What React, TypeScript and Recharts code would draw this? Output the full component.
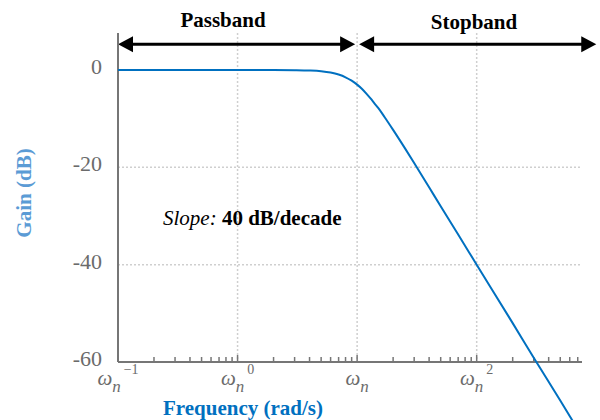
import {
  CartesianGrid,
  Line,
  LineChart,
  ReferenceLine,
  XAxis,
  YAxis,
} from "recharts";

// frequency (rad/s, with omega_n = 10) and gain (dB)
const freq = [0.1, 1, 2, 3, 4, 5, 6, 7, 8, 9, 10, 11, 12, 13, 14, 15, 17, 20, 25, 30, 40, 50, 70, 100, 200, 300, 500, 700];
const gain = [0, 0, -0.01, -0.04, -0.11, -0.26, -0.53, -0.94, -1.5, -2.2, -3.0, -3.9, -4.9, -5.9, -6.9, -7.8, -9.7, -12.3, -16.0, -19.1, -24.1, -28.0, -33.8, -40.0, -52.0, -59.1, -67.9, -73.8];

const yTicks = [0, -20, -40, -60];
const majorTicks = [0.1, 1, 10, 100];
const majorExp = ["\u22121", "0", "", "2"];
const minorTicks = [
  0.2, 0.3, 0.4, 0.5, 0.6, 0.7, 0.8, 0.9,
  2, 3, 4, 5, 6, 7, 8, 9,
  20, 30, 40, 50, 60, 70, 80, 90,
  200, 300, 400, 500, 600, 700,
];
const passband = [0.1, 10];
const stopband = [10, 1000];
const arrowLevel = 5.3;

const data = freq.map((f, i) => ({ f, gain: gain[i] }));

const W = 600;
const H = 420;
const X_DOMAIN = [0.1, 760];
const SERIF = '"Liberation Serif", "Times New Roman", serif';
const AXIS = "#767676";
const TXT = "#6b6b6b";

const XTick = ({ x, y, payload }: any) => {
  const idx = majorTicks.indexOf(payload.value);
  const major = idx >= 0;
  return (
    <g>
      <line x1={x} x2={x} y1={y} y2={y - (major ? 7 : 5)} stroke={AXIS} strokeWidth={1.5} />
      {major && (
        <text x={x} y={y + 23} textAnchor="middle" fill={TXT} fontFamily={SERIF} fontStyle="italic">
          <tspan fontSize={21}>ω</tspan>
          <tspan fontSize={17} dy={7}>n</tspan>
          {majorExp[idx] && (
            <tspan fontSize={14} fontStyle="normal" dy={-18} dx={3}>
              {majorExp[idx]}
            </tspan>
          )}
        </text>
      )}
    </g>
  );
};

const YTick = ({ x, y, payload }: any) => (
  <text x={x} y={y + 4} textAnchor="end" fill={TXT} fontFamily={SERIF} fontSize={22}>
    {payload.value}
  </text>
);

const arrow = (padStart: number, padEnd: number) => (props: any) => {
  const { x1, y1, x2 } = props;
  const a = x1 + padStart;
  const b = x2 - padEnd;
  const L = 15;
  const h = 8;
  return (
    <g>
      <line x1={a + L - 2} x2={b - L + 2} y1={y1} y2={y1} stroke="#000" strokeWidth={3} />
      <path d={`M${a},${y1} L${a + L},${y1 - h} L${a + L},${y1 + h} Z`} fill="#000" />
      <path d={`M${b},${y1} L${b - L},${y1 - h} L${b - L},${y1 + h} Z`} fill="#000" />
    </g>
  );
};

const App = () => {
  return (
    <div style={{ position: "absolute", left: 0, top: 0, width: W, height: H, background: "#fff" }}>
      {/* axes, grid and band arrows */}
      <div style={{ position: "absolute", left: 0, top: 0 }}>
        <LineChart width={W} height={H} data={data} margin={{ top: 33, right: 18, bottom: 0, left: 0 }}>
          <CartesianGrid
            stroke="#cfcfcf"
            strokeDasharray="2 2"
            strokeWidth={1.5}
            horizontalValues={[-20, -40]}
            verticalValues={[1, 10, 100]}
          />
          <XAxis
            dataKey="f"
            type="number"
            scale="log"
            domain={X_DOMAIN}
            allowDataOverflow
            ticks={[...majorTicks, ...minorTicks].sort((a, b) => a - b)}
            interval={0}
            tick={XTick}
            tickLine={false}
            tickSize={0}
            tickMargin={0}
            height={58}
            axisLine={{ stroke: AXIS, strokeWidth: 2 }}
          />
          <YAxis
            type="number"
            domain={[-60, 7.6]}
            allowDataOverflow
            ticks={yTicks}
            interval={0}
            width={118}
            tick={YTick}
            tickLine={false}
            tickSize={0}
            tickMargin={16}
            axisLine={{ stroke: AXIS, strokeWidth: 2 }}
          />
          <ReferenceLine
            segment={[
              { x: passband[0], y: arrowLevel },
              { x: passband[1], y: arrowLevel },
            ]}
            ifOverflow="visible"
            shape={arrow(0, 2)}
          />
          <ReferenceLine
            segment={[
              { x: stopband[0], y: arrowLevel },
              { x: stopband[1], y: arrowLevel },
            ]}
            ifOverflow="visible"
            shape={arrow(2, 0)}
          />
        </LineChart>
      </div>

      {/* response curve, on a taller scale so it can run past -60 dB */}
      <div style={{ position: "absolute", left: 0, top: 0 }}>
        <LineChart width={W} height={H} data={data} margin={{ top: 33, right: 18, bottom: 0, left: 118 }}>
          <XAxis dataKey="f" type="number" scale="log" domain={X_DOMAIN} allowDataOverflow hide />
          <YAxis type="number" domain={[-71.9, 7.6]} allowDataOverflow hide />
          <Line
            type="monotone"
            dataKey="gain"
            stroke="#0070C0"
            strokeWidth={2}
            dot={false}
            isAnimationActive={false}
          />
        </LineChart>
      </div>

      <svg
        width={W}
        height={H}
        style={{ position: "absolute", left: 0, top: 0, pointerEvents: "none" }}
        fontFamily={SERIF}
        fontSize={21}
      >
        <text x={223} y={27} textAnchor="middle" fontWeight="bold" fill="#000">
          Passband
        </text>
        <text x={474} y={29} textAnchor="middle" fontWeight="bold" fill="#000">
          Stopband
        </text>
        <text x={163} y={225} fill="#000">
          <tspan fontStyle="italic">Slope:</tspan>
          <tspan fontWeight="bold"> 40 dB/decade</tspan>
        </text>
        <text transform="translate(31,193) rotate(-90)" textAnchor="middle" fontWeight="bold" fill="#5B9BD5">
          Gain (dB)
        </text>
        <text x={163} y={415} fontWeight="bold" fill="#0070C0">
          Frequency (rad/s)
        </text>
      </svg>
    </div>
  );
};

export default App;
